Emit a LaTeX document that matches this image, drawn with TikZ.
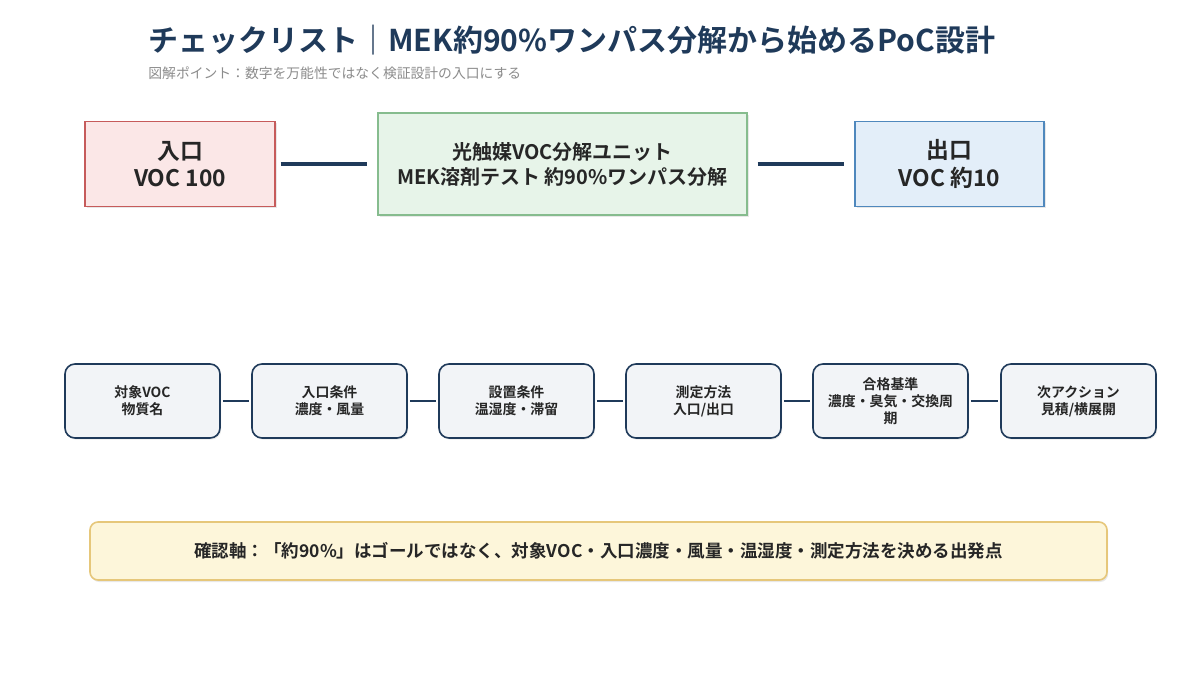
\documentclass[tikz,border=0pt]{standalone}
\usepackage{fontspec}
\setmainfont{Noto Sans CJK JP}[BoldFont={Noto Sans CJK JP Bold}]
\usetikzlibrary{shadows}
\definecolor{navy}{HTML}{1F3A5A}
\definecolor{inred}{HTML}{C65B5B}
\definecolor{infill}{HTML}{FBE7E7}
\definecolor{unitgreen}{HTML}{86BC8E}
\definecolor{unitfill}{HTML}{E7F4E9}
\definecolor{outblue}{HTML}{4F88BD}
\definecolor{outfill}{HTML}{E3EEF9}
\definecolor{stepfill}{HTML}{F2F4F7}
\definecolor{notegold}{HTML}{E6C77A}
\definecolor{notefill}{HTML}{FDF6DA}
\tikzset{
  topbox/.style={draw, line width=0.7pt, align=center, text=black!85, font=\bfseries\fontsize{11.4}{13.8}\selectfont,
    drop shadow={opacity=0.18, shadow xshift=0.8pt, shadow yshift=-0.8pt}},
  stepbox/.style={draw=navy, fill=stepfill, line width=0.8pt, rounded corners=5pt, align=center,
    minimum width=77.5pt, minimum height=37pt, text=black!85, font=\bfseries\fontsize{6.95}{8.5}\selectfont,
    drop shadow={opacity=0.15, shadow xshift=0.6pt, shadow yshift=-0.8pt}},
  bigline/.style={draw=navy, line width=1.6pt},
  smallline/.style={draw=navy, line width=0.9pt, shorten <=1pt, shorten >=1pt}
}
\begin{document}
\begin{tikzpicture}[x=0.5pt, y=-0.5pt]
\useasboundingbox[fill=white] (0,0) rectangle (1200,675);
%Title
\node[anchor=west, inner sep=0pt, text=navy, font=\bfseries\fontsize{15}{18}\selectfont] (title) at (148,40) {チェックリスト｜MEK約90\%ワンパス分解から始めるPoC設計};
\node[anchor=west, inner sep=0pt, text=black!45, font=\fontsize{6.9}{8}\selectfont] (sub) at (148,73) {図解ポイント：数字を万能性ではなく検証設計の入口にする};
%Top row
\node[topbox, draw=inred, fill=infill, minimum width=95pt, minimum height=42.5pt] (in) at (180,164) {入口\\VOC 100};
\node[topbox, draw=unitgreen, fill=unitfill, minimum width=184.5pt, minimum height=51pt,
  font=\bfseries\fontsize{10}{12.5}\selectfont] (unit) at (562.5,164) {光触媒VOC分解ユニット\\MEK溶剤テスト 約90\%ワンパス分解};
\node[topbox, draw=outblue, fill=outfill, minimum width=94.5pt, minimum height=42.5pt] (out) at (949.5,164) {出口\\VOC 約10};
\draw[bigline, shorten <=2.5pt, shorten >=5pt] (in) -- (unit);
\draw[bigline, shorten <=5pt, shorten >=5pt] (unit) -- (out);
%Checklist steps
\node[stepbox] (s1) at (142.5,401) {対象VOC\\物質名};
\node[stepbox] (s2) at (329.5,401) {入口条件\\濃度・風量};
\node[stepbox] (s3) at (516.5,401) {設置条件\\温湿度・滞留};
\node[stepbox] (s4) at (703.5,401) {測定方法\\入口/出口};
\node[stepbox] (s5) at (890.5,401) {合格基準\\濃度・臭気・交換周\\期};
\node[stepbox] (s6) at (1078.5,401) {次アクション\\見積/横展開};
\foreach \a/\b in {s1/s2,s2/s3,s3/s4,s4/s5,s5/s6}
  \draw[smallline] (\a) -- (\b);
%Note
\node[draw=notegold, fill=notefill, line width=0.8pt, rounded corners=4pt, minimum width=508.5pt, minimum height=29pt,
  text=black!85, font=\bfseries\fontsize{8.75}{10}\selectfont,
  drop shadow={opacity=0.18, shadow xshift=0.6pt, shadow yshift=-1pt}] (note) at (598.5,551)
  {確認軸：「約90\%」はゴールではなく、対象VOC・入口濃度・風量・温湿度・測定方法を決める出発点};
\end{tikzpicture}
\end{document}
